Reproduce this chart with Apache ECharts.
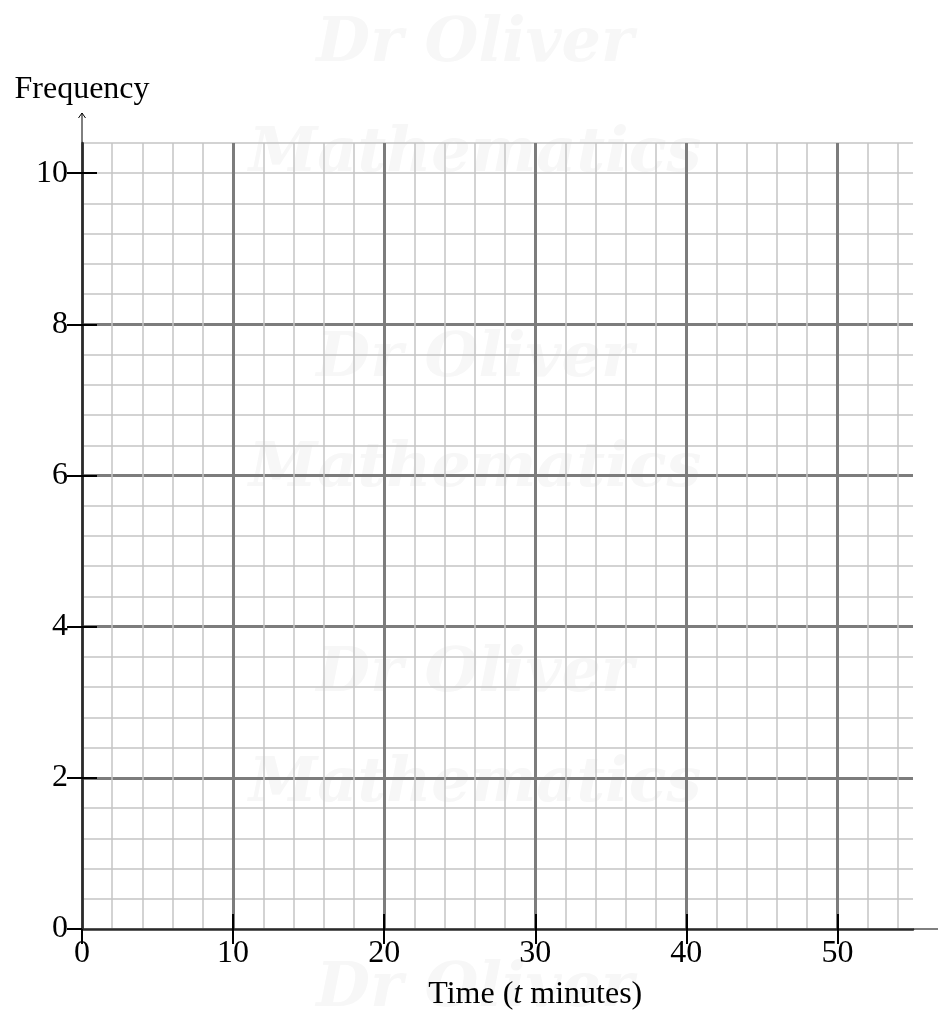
<!DOCTYPE html>
<html>
<head>
<meta charset="utf-8">
<script src="https://cdn.jsdelivr.net/npm/echarts@6/dist/echarts.min.js"></script>
<style>
  html, body { margin: 0; padding: 0; background: #fff; }
  #chart { width: 938px; height: 1017px; }
</style>
</head>
<body>
<div id="chart"></div>
<script>
(function() {
  // axis ranges and tick labels
  var xRange = [0, 55];
  var yRange = [0, 10.4];
  var xTicks = [0, 10, 20, 30, 40, 50];
  var yTicks = [0, 2, 4, 6, 8, 10];
  var xMinorStep = 2;
  var yMinorStep = 0.4;
  var watermarkRows = ['Dr Oliver', 'Mathematics'];

  var font = '"Liberation Serif", "DejaVu Serif", serif';
  var chart = echarts.init(document.getElementById('chart'));

  var hidden = { show: false };

  function watermark() {
    var items = [];
    var y = 45;
    for (var i = 0; i < 7; i++) {
      items.push({
        type: 'text', z: -100, zlevel: 0, silent: true,
        x: 475, y: y,
        style: {
          text: watermarkRows[i % 2], fill: '#f7f7f7',
          font: 'italic bold 62px "DejaVu Serif", serif',
          align: 'center', verticalAlign: 'middle'
        }
      });
      y += i % 2 === 0 ? 110 : 205;
    }
    return items;
  }

  var option = {
    animation: false,
    backgroundColor: '#fff',
    grid: { left: 82, right: 25, top: 143, bottom: 88, containLabel: false, z: 2 },
    xAxis: [
      { // minor grid
        type: 'value', min: xRange[0], max: xRange[1], interval: xMinorStep, position: 'bottom',
        axisLine: hidden, axisTick: hidden, axisLabel: hidden,
        splitLine: { show: true, showMaxLine: false, lineStyle: { color: '#c4c4c4', width: 1.5 } }
      },
      { // major grid, axis line, labels, outer ticks
        type: 'value', min: xRange[0], max: xRange[1], interval: 10, position: 'bottom',
        axisLine: { show: true, onZero: false, lineStyle: { color: '#2a2a2a', width: 2.5 } },
        axisTick: { show: true, length: 15, customValues: xTicks, lineStyle: { color: '#000', width: 2 } },
        axisLabel: { show: true, customValues: xTicks, margin: 9, color: '#000', fontFamily: font, fontSize: 32 },
        splitLine: { show: true, lineStyle: { color: '#7c7c7c', width: 3 } }
      },
      { // inner half of the ticks
        type: 'value', min: xRange[0], max: xRange[1], interval: 10, position: 'bottom',
        axisLine: hidden, axisLabel: hidden, splitLine: hidden,
        axisTick: { show: true, inside: true, length: 15, customValues: xTicks.slice(1), lineStyle: { color: '#000', width: 2 } }
      }
    ],
    yAxis: [
      {
        type: 'value', min: yRange[0], max: yRange[1], interval: yMinorStep, position: 'left',
        axisLine: hidden, axisTick: hidden, axisLabel: hidden,
        splitLine: { show: true, lineStyle: { color: '#c4c4c4', width: 1.5 } }
      },
      {
        type: 'value', min: yRange[0], max: yRange[1], interval: 2, position: 'left',
        axisLine: { show: true, onZero: false, lineStyle: { color: '#2a2a2a', width: 2.5 } },
        axisTick: { show: true, length: 15, customValues: yTicks, lineStyle: { color: '#000', width: 2 } },
        axisLabel: { show: true, customValues: yTicks, margin: 14, color: '#000', fontFamily: font, fontSize: 32 },
        splitLine: { show: true, showMinLine: false, showMaxLine: false, lineStyle: { color: '#7c7c7c', width: 3 } },
        name: 'Frequency', nameLocation: 'end', nameGap: 37,
        nameTextStyle: { color: '#000', fontFamily: font, fontSize: 32, align: 'center' }
      },
      {
        type: 'value', min: yRange[0], max: yRange[1], interval: 2, position: 'left',
        axisLine: hidden, axisLabel: hidden, splitLine: hidden,
        axisTick: { show: true, inside: true, length: 15, customValues: yTicks.slice(1), lineStyle: { color: '#000', width: 2 } }
      }
    ],
    series: [{ type: 'line', xAxisIndex: 1, yAxisIndex: 1, data: [] }],
    graphic: watermark()
  };
  chart.setOption(option);

  // thin axis extensions and the arrow head, placed from the axes' own scale
  var o = chart.convertToPixel({ gridIndex: 0 }, [xRange[0], yRange[0]]);
  var tr = chart.convertToPixel({ gridIndex: 0 }, [xRange[1], yRange[1]]);
  var mid = chart.convertToPixel({ gridIndex: 0 }, [30, 0]);
  var thin = { stroke: '#000', lineWidth: 1 };
  var top = tr[1] - 30;
  chart.setOption({
    graphic: watermark().concat([
      { type: 'line', shape: { x1: tr[0], y1: o[1], x2: 938, y2: o[1] }, style: thin },
      { type: 'line', shape: { x1: o[0], y1: tr[1], x2: o[0], y2: top }, style: thin },
      { type: 'polyline', shape: { points: [[o[0] - 3.5, top + 5], [o[0], top], [o[0] + 3.5, top + 5]] }, style: { stroke: '#000', lineWidth: 1, fill: null } },
      {
        type: 'text', x: mid[0], y: o[1] + 66,
        style: {
          text: 'Time ({i|t} minutes)',
          rich: { i: { fontStyle: 'italic', fontFamily: font, fontSize: 32, fill: '#000' } },
          font: '32px ' + font, fill: '#000', align: 'center', verticalAlign: 'middle'
        }
      }
    ])
  });
})();
</script>
</body>
</html>
